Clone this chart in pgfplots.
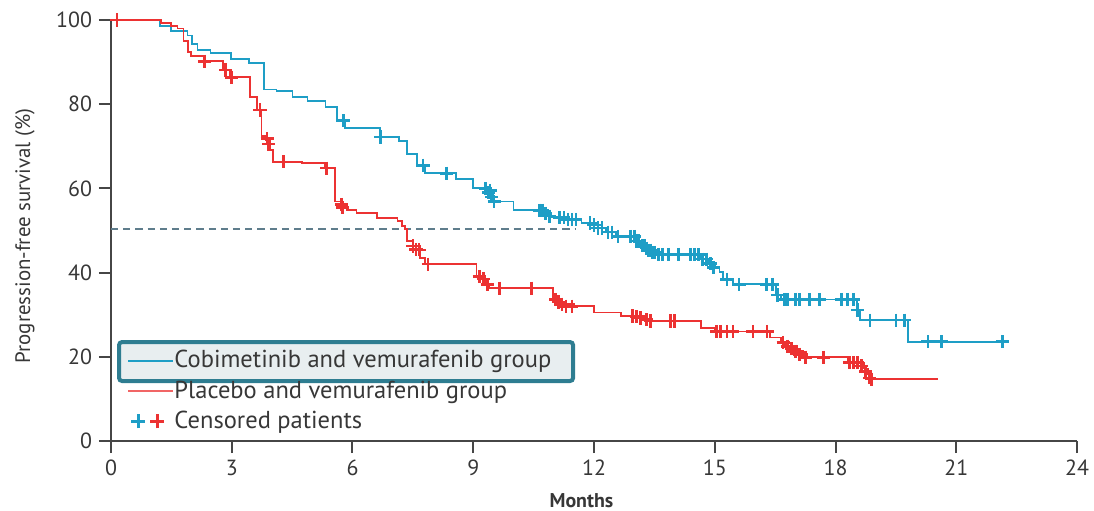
\documentclass[border=0pt]{standalone}
\usepackage{fontspec}
\setmainfont{PT Sans}
\usepackage{pgfplots}
\pgfplotsset{compat=1.18}

\definecolor{cblue}{RGB}{30,158,198}
\definecolor{cred}{RGB}{236,50,50}
\definecolor{dashgray}{RGB}{95,125,140}
\definecolor{axisgray}{RGB}{70,70,70}
\definecolor{textgray}{RGB}{55,55,55}
\definecolor{boxedge}{RGB}{46,125,145}
\definecolor{boxfill}{RGB}{232,238,240}

\begin{document}
\begin{tikzpicture}
\begin{axis}[
  scale only axis, width=483bp, height=210.5bp,
  xmin=0, xmax=24, ymin=0, ymax=100,
  axis x line*=bottom, axis y line*=left,
  axis line style={axisgray, line width=1bp},
  xtick={0,3,...,24}, ytick={0,20,...,100},
  tick align=outside, major tick length=6bp,
  tick style={axisgray, line width=1bp},
  tick label style={font=\fontsize{11}{13}\selectfont, text=textgray},
  /pgf/number format/assume math mode=true,
  xlabel={Months},
  xlabel style={font=\bfseries\fontsize{10}{12}\selectfont, text=textgray,
    at={(axis description cs:0.487,0)}, anchor=center, yshift=-29.8bp},
  ylabel={Progression-free survival (\%)},
  ylabel style={font=\fontsize{10.5}{12}\selectfont, text=textgray,
    at={(axis description cs:-0.089,0.487)}, anchor=center},
  clip=false,
  legend cell align=left,
  legend style={at={(axis cs:0.4,21.6)}, anchor=north west, draw=none, fill=none,
    font=\fontsize{12.3}{14}\selectfont, text=textgray,
    row sep=5bp, inner sep=0pt,
    nodes={inner sep=0pt},
    /tikz/every even column/.append style={column sep=5bp}},
]

% highlight frame behind the first legend entry
\draw[fill=boxfill, draw=boxedge, line width=2bp, rounded corners=1.5bp]
  (axis cs:0.2,14.25) rectangle (axis cs:11.48,23.5);

% median reference line
\addplot[dashgray, line width=0.8bp, dash pattern=on 3.6bp off 2.5bp, forget plot]
  coordinates {(0,50.3) (11.55,50.3)};

% Cobimetinib and vemurafenib group
\addplot[cblue, line width=0.9bp, const plot, forget plot] coordinates {
(0,100)(1.21,98.5)(1.5,97.4)(1.9,96.3)(2.02,94.3)(2.15,92.8)(2.47,92.2)(2.98,90.8)
(3.43,89.7)(3.8,83.5)(4.11,83.1)(4.51,81.7)(4.88,80.8)(5.33,79.4)(5.62,76.1)(5.81,74.4)
(6.68,72.2)(7.15,71.2)(7.35,68.1)(7.6,65.5)(7.8,63.6)(8.58,62.2)(9.0,60.0)(9.4,59.0)
(9.49,56.9)(10.0,54.8)(10.78,54.1)(10.9,53.1)(11.3,52.6)(11.69,51.8)(12.0,51.3)(12.1,50.6)
(12.3,49.6)(12.55,48.6)(13.02,47.5)(13.15,46.4)(13.28,45.8)(13.35,45.3)(13.45,44.8)
(13.55,44.3)(14.65,43.2)(14.85,42.1)(15.0,41.2)(15.12,40.2)(15.2,38.4)(15.46,37.2)
(16.52,34.7)(16.65,33.6)(18.53,31.1)(18.6,28.7)(19.8,23.6)(22.3,23.6)};

% Placebo and vemurafenib group
\addplot[cred, line width=0.9bp, const plot, forget plot] coordinates {
(0,100)(1.24,99.2)(1.49,98.6)(1.65,98.0)(1.8,95.0)(1.92,92.4)(1.99,91.4)(2.3,90.2)
(2.78,88.1)(2.95,86.4)(3.45,81.8)(3.62,78.6)(3.74,72.4)(3.85,71.5)(3.95,69.2)(4.03,66.3)
(4.74,66.0)(5.32,64.8)(5.57,56.9)(5.7,55.8)(5.86,54.9)(6.1,54.2)(6.6,53.0)(7.12,52.2)
(7.22,51.0)(7.3,50.3)(7.36,47.6)(7.5,46.3)(7.68,43.5)(7.8,42.0)(9.08,39.1)(9.3,37.2)
(9.4,36.3)(10.98,33.6)(11.2,32.5)(11.5,32.0)(12.0,30.5)(12.67,29.7)(13.3,28.5)
(14.66,26.8)(15.0,26.0)(16.37,24.6)(16.65,23.4)(16.75,22.5)(17.05,21.3)(17.2,20.6)
(17.3,19.9)(18.3,18.6)(18.7,17.2)(18.8,15.9)(18.85,14.7)(20.55,14.7)};

% censored patients
\addplot[only marks, mark=+, mark size=3.3bp, cblue, mark options={line width=1.3bp}, forget plot]
coordinates {
(5.78,76.1)(6.7,72.2)(7.75,65.5)(8.33,63.6)
(9.3,60.0)(9.38,59.0)(9.42,59.5)(9.45,58.0)(9.52,56.9)
(10.65,54.8)(10.72,54.8)(10.8,54.1)(10.9,53.4)
(11.15,53.1)(11.25,53.1)(11.35,52.6)(11.45,52.6)(11.55,52.6)
(11.9,51.8)(12.0,51.3)(12.1,50.6)(12.2,50.6)(12.35,49.6)(12.45,49.6)(12.6,48.6)
(12.9,48.6)(13.0,48.6)(13.05,47.5)(13.1,47.5)(13.2,46.4)(13.25,46.4)(13.3,45.8)
(13.35,45.3)(13.4,45.3)(13.45,44.8)(13.5,44.8)(13.6,44.3)(13.7,44.3)
(13.85,44.3)(14.1,44.3)(14.4,44.3)(14.5,44.3)(14.6,44.3)(14.7,43.2)(14.8,43.2)
(14.9,42.1)(14.97,41.2)(15.3,38.4)(15.6,37.2)
(16.28,37.2)(16.43,37.2)(16.56,34.7)(16.73,33.6)
(16.8,33.6)(17.0,33.6)(17.1,33.6)(17.35,33.6)(17.6,33.6)(18.15,33.6)(18.3,33.6)
(18.45,33.6)(18.55,31.1)(18.86,28.7)(19.5,28.7)(19.72,28.7)
(20.3,23.6)(20.63,23.6)(22.15,23.6)};

\addplot[only marks, mark=+, mark size=3.3bp, cred, mark options={line width=1.3bp}, forget plot]
coordinates {
(0.15,100)(2.32,90.2)(2.85,88.1)(3.0,86.4)(3.7,78.6)(3.88,71.8)(3.92,70.5)(4.28,66.3)
(5.36,64.8)(5.72,56.2)(5.75,55.4)
(7.5,46.3)(7.58,45.5)(7.65,45.4)(7.88,42.0)
(9.15,39.1)(9.25,38.5)(9.35,37.2)(9.65,36.3)(10.45,36.3)
(11.05,33.6)(11.12,33.0)(11.2,32.5)(11.3,32.0)(11.45,32.0)
(12.95,29.7)(13.05,29.5)(13.15,29.2)(13.3,28.8)(13.4,28.5)(13.9,28.5)(14.0,28.5)
(15.05,26.0)(15.15,26.0)(15.3,26.0)(15.45,26.0)(15.95,26.0)(16.3,26.0)
(16.7,23.4)(16.8,22.5)(16.9,22.0)(17.0,21.3)(17.1,20.6)(17.25,19.9)(17.7,19.9)
(18.35,18.6)(18.45,18.6)(18.55,18.6)(18.65,17.8)(18.75,16.5)(18.85,15.0)(18.9,14.7)};

% legend
\addlegendimage{legend image code/.code={\draw[cblue, line width=1bp] (0bp,0bp) -- (22.5bp,0bp);}}
\addlegendentry{Cobimetinib and vemurafenib group}
\addlegendimage{legend image code/.code={\draw[cred!75, line width=0.9bp] (0bp,0bp) -- (22.5bp,0bp);}}
\addlegendentry{Placebo and vemurafenib group}
\addlegendimage{legend image code/.code={
  \draw[cblue, line width=1.3bp] (1.5bp,0bp) -- (8.5bp,0bp) (5bp,-3.5bp) -- (5bp,3.5bp);
  \draw[cred, line width=1.3bp] (11bp,0bp) -- (18bp,0bp) (14.5bp,-3.5bp) -- (14.5bp,3.5bp);}}
\addlegendentry{Censored patients}
\end{axis}
\pgfresetboundingbox
\path (-55.5bp,-35bp) rectangle (491.5bp,220.5bp);
\end{tikzpicture}
\end{document}
